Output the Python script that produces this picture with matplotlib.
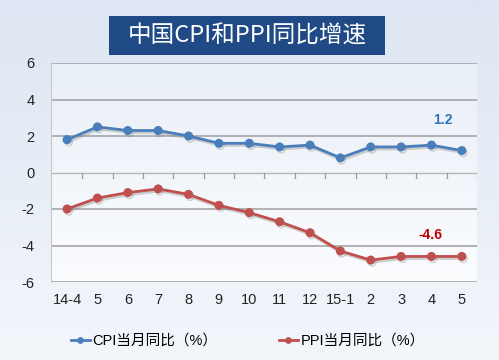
import numpy as np
import matplotlib.pyplot as plt
from matplotlib.patches import Rectangle
from matplotlib.colors import LinearSegmentedColormap
import matplotlib.patheffects as pe

plt.rcParams['font.family'] = ['Liberation Sans', 'Noto Sans CJK SC', 'DejaVu Sans']

# ---- data ----
months = ["14-4", "5", "6", "7", "8", "9", "10", "11", "12", "15-1", "2", "3", "4", "5"]
cpi = [1.8, 2.5, 2.3, 2.3, 2.0, 1.6, 1.6, 1.4, 1.5, 0.8, 1.4, 1.4, 1.5, 1.2]
ppi = [-2.0, -1.4, -1.1, -0.9, -1.2, -1.8, -2.2, -2.7, -3.3, -4.3, -4.8, -4.6, -4.6, -4.6]
yticks = [-6, -4, -2, 0, 2, 4, 6]

c_cpi = "#4a7ebb"
c_ppi = "#c0504d"

fig = plt.figure(figsize=(4.99, 3.6), dpi=100)
fig.patch.set_facecolor("#e4ebf5")

# background gradient for the whole figure
bg = fig.add_axes([0, 0, 1, 1], zorder=-10)
grad = np.linspace(0, 1, 256).reshape(-1, 1)
bg.imshow(grad, aspect="auto", cmap=LinearSegmentedColormap.from_list(
    "bgc", ["#dde6f2", "#f3f6fb"]), extent=[0, 1, 0, 1], origin="upper")
bg.axis("off")

ax = fig.add_axes([51 / 499, 1 - 282 / 360, 426 / 499, 219 / 360])
ax.patch.set_alpha(0)
ax.imshow(grad, aspect="auto", cmap=LinearSegmentedColormap.from_list(
    "axc", ["#e9eff7", "#fbfcfe"]), extent=[-0.53, 13.5, -6, 6], origin="upper", zorder=0)

x = np.arange(len(months))
shadow = [pe.SimpleLineShadow(offset=(1, -1.5), shadow_color="gray", alpha=0.35), pe.Normal()]
ax.plot(x, cpi, color=c_cpi, lw=2.0, marker="o", ms=5.5, zorder=4,
        label="CPI当月同比（%）", path_effects=shadow)
ax.plot(x, ppi, color=c_ppi, lw=2.0, marker="o", ms=5.5, zorder=4,
        label="PPI当月同比（%）", path_effects=shadow)

ax.set_xlim(-0.53, 13.5)
ax.set_ylim(-6, 6)

# grid lines
for yv in yticks:
    if yv != 0:
        ax.axhline(yv, color="#a6a6a6", lw=1.2, zorder=2)
# zero axis with category tick marks
ax.axhline(0, color="#b5b5b5", lw=1.0, zorder=2)
for b in np.arange(0.5, 13.6, 1.0):
    ax.plot([b, b], [0, -0.3], color="#9a9a9a", lw=0.9, zorder=2)

ax.set_yticks(yticks)
ax.set_yticklabels([str(v) for v in yticks], fontsize=10.5, color="#222222")
ax.set_xticks(x)
ax.set_xticklabels(months, fontsize=10.5, color="#222222")
ax.tick_params(length=0, pad=8)
ax.tick_params(axis="y", pad=12)
for s in ["top", "right", "bottom"]:
    ax.spines[s].set_visible(False)
ax.spines["left"].set_color("#c8c8c8")

ax.text(12.37, 2.9, "1.2", color="#2e75b6", fontsize=10, fontweight="bold", ha="center", va="center")
ax.text(11.97, -3.4, "-4.6", color="#c00000", fontsize=10, fontweight="bold", ha="center", va="center")

leg = fig.legend(loc="center", bbox_to_anchor=(248 / 499, 1 - 341 / 360), ncol=2, frameon=False,
                 handlelength=1.3, handletextpad=0.2, columnspacing=4.2, markerscale=0.7,
                 prop={"family": ["Liberation Sans", "Noto Sans CJK SC"], "size": 10.5})
for h in leg.legend_handles:
    h.set_path_effects([])

# title box
fig.patches.append(Rectangle((109 / 499, 1 - 55 / 360), 276 / 499, 39 / 360,
                             transform=fig.transFigure, facecolor="#1f4a85",
                             edgecolor="none", zorder=5))
fig.text(247 / 499, 1 - 36 / 360, "中国CPI和PPI同比增速", color="white", fontsize=17,
         ha="center", va="center", family=["Noto Sans CJK SC"], zorder=6)

fig.savefig("out.png", dpi=100)
